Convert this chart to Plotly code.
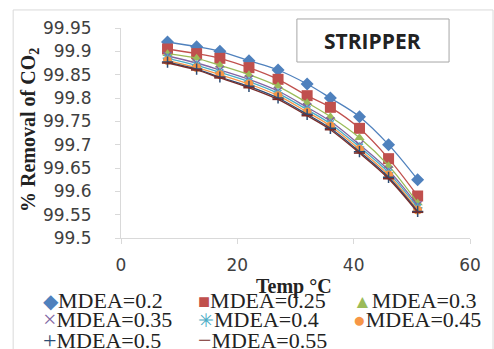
import plotly.graph_objects as go

temp = [8, 13, 17, 22, 27, 32, 36, 41, 46, 51]
mdea_labels = ["MDEA=0.2", "MDEA=0.25", "MDEA=0.3", "MDEA=0.35",
               "MDEA=0.4", "MDEA=0.45", "MDEA=0.5", "MDEA=0.55"]
r_020 = [99.92, 99.91, 99.90, 99.88, 99.86, 99.83, 99.80, 99.76, 99.70, 99.625]
r_025 = [99.905, 99.895, 99.885, 99.865, 99.84, 99.805, 99.78, 99.735, 99.67, 99.59]
r_030 = [99.895, 99.885, 99.87, 99.85, 99.825, 99.79, 99.76, 99.715, 99.655, 99.575]
r_035 = [99.89, 99.875, 99.86, 99.84, 99.815, 99.78, 99.75, 99.70, 99.645, 99.57]
r_040 = [99.885, 99.87, 99.855, 99.835, 99.81, 99.775, 99.745, 99.695, 99.64, 99.565]
r_045 = [99.88, 99.865, 99.85, 99.83, 99.805, 99.77, 99.74, 99.69, 99.635, 99.56]
r_050 = [99.877, 99.862, 99.845, 99.825, 99.80, 99.765, 99.735, 99.685, 99.63, 99.557]
r_055 = [99.875, 99.86, 99.843, 99.822, 99.797, 99.762, 99.732, 99.682, 99.627, 99.555]
series = [r_020, r_025, r_030, r_035, r_040, r_045, r_050, r_055]
x_ticks = [0, 20, 40, 60]
y_ticks = [99.5, 99.55, 99.6, 99.65, 99.7, 99.75, 99.8, 99.85, 99.9, 99.95]

colors = ["#4F81BD", "#C0504D", "#9BBB59", "#8064A2",
          "#4BACC6", "#F79646", "#2C4D75", "#772C2A"]
symbols = ["diamond", "square", "triangle-up", "x-thin",
           "asterisk", "circle", "cross-thin", "line-ew"]
sizes = [10, 11, 9, 8, 8, 9, 8, 8]
open_sym = [False, False, False, True, True, False, True, True]
legend_glyphs = ["◆", "■", "▲", "×", "✳", "●", "+", "−"]
legend_glyph_size = [20, 20, 19, 24, 19, 21, 24, 24]
# legend grid: column left edge (px) and row centre (px)
legend_col_px = [3, 158, 313]
legend_row_px = [300, 319, 340]

fig = go.Figure()
for i, ys in enumerate(series):
    mk = dict(symbol=symbols[i], size=sizes[i], color=colors[i])
    if open_sym[i]:
        mk["line"] = dict(color=colors[i], width=1.5)
    fig.add_trace(go.Scatter(
        x=temp, y=ys, mode="lines+markers", name=mdea_labels[i],
        line=dict(color=colors[i], width=1.3, shape="spline"),
        marker=mk, showlegend=False))

legend_layouts = {}
for i in range(len(series)):
    lname = "legend" if i == 0 else f"legend{i + 1}"
    label = (f'<span style="color:{colors[i]};font-size:{legend_glyph_size[i]}px">'
             f'{legend_glyphs[i]}</span>{mdea_labels[i]}')
    fig.add_trace(go.Scatter(x=[None], y=[None], mode="markers", name=label,
                             marker=dict(color="rgba(0,0,0,0)", size=1),
                             legend=lname, showlegend=True))
    col, row = i % 3, i // 3
    legend_layouts[lname] = dict(
        orientation="h", x=(legend_col_px[col] - 121) / 349, xanchor="left",
        y=(238 - legend_row_px[row]) / 210, yanchor="middle",
        font=dict(family="Liberation Serif", size=22, color="#222222"),
        itemwidth=30, bgcolor="rgba(0,0,0,0)", borderwidth=0)

axis_col = "#D9D9D9"
tick_font = dict(family="DejaVu Sans", size=17, color="#404040")

fig.update_layout(
    width=494, height=349,
    margin=dict(l=121, r=24, t=28, b=111, autoexpand=False),
    paper_bgcolor="white", plot_bgcolor="white",
    showlegend=True,
    xaxis=dict(range=[0, 60], tickvals=x_ticks, showgrid=False, zeroline=False,
               showline=True, linecolor=axis_col, linewidth=1,
               ticks="outside", ticklen=5, tickcolor=axis_col,
               tickfont=tick_font, ticklabelstandoff=7),
    yaxis=dict(range=[99.5, 99.95], tickvals=y_ticks,
               ticktext=[f"{v:g}" for v in y_ticks],
               showgrid=False, zeroline=False,
               showline=True, linecolor=axis_col, linewidth=1,
               ticks="outside", ticklen=5, tickcolor=axis_col,
               tickfont=tick_font, ticklabelstandoff=20),
    shapes=[
        dict(type="rect", xref="paper", yref="paper",
             x0=-0.309, x1=1.066, y0=-0.6, y1=1.086,
             line=dict(color="#D9D9D9", width=1), layer="below"),
        dict(type="rect", xref="paper", yref="paper",
             x0=0.504, x1=0.940, y0=0.838, y1=1.043,
             line=dict(color="#A6A6A6", width=1), fillcolor="white", layer="below"),
    ],
    annotations=[
        dict(text="<b>STRIPPER</b>", xref="paper", yref="paper",
             x=0.722, y=(238 - 41) / 210, xanchor="center", yanchor="middle",
             showarrow=False,
             font=dict(family="Open Sans", size=21, color="#222222")),
        dict(text="<b>Temp °C</b>", xref="paper", yref="paper",
             x=(294 - 121) / 349, y=(238 - 286) / 210,
             xanchor="center", yanchor="middle", showarrow=False,
             font=dict(family="Liberation Serif", size=20, color="#222222")),
        dict(text="<b>% Removal of CO<sub>2</sub></b>", xref="paper", yref="paper",
             x=(29 - 121) / 349, y=(238 - 130) / 210, textangle=-90,
             xanchor="center", yanchor="middle", showarrow=False,
             font=dict(family="Liberation Serif", size=20, color="#222222")),
    ],
)
fig.update_layout(**legend_layouts)

fig.write_html("out.html")
